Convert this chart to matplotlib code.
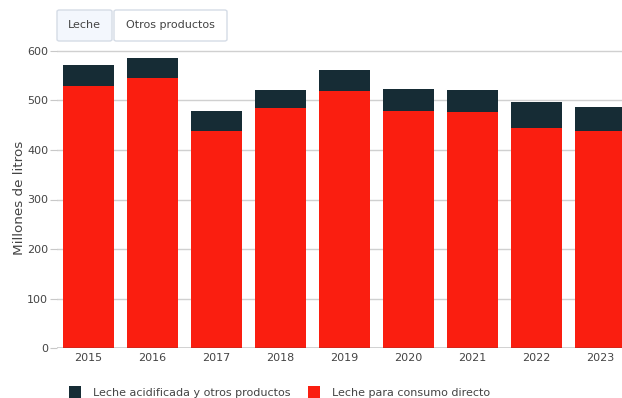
import matplotlib
matplotlib.use("Agg")
import matplotlib.pyplot as plt
from matplotlib.patches import FancyBboxPatch, Rectangle
import numpy as np

years = ["2015", "2016", "2017", "2018", "2019", "2020", "2021", "2022", "2023"]
consumo_directo = [529, 545, 438, 484, 519, 478, 476, 444, 438]
acidificada = [42, 40, 40, 36, 42, 45, 45, 53, 49]
yticks = [0, 100, 200, 300, 400, 500, 600]
buttons = ["Leche", "Otros productos"]
legend_labels = ["Leche acidificada y otros productos", "Leche para consumo directo"]

RED = "#fa1e10"
DARK = "#162c35"
TXT = "#444444"

plt.rcParams['font.family'] = ['DejaVu Sans']

W, H = 622, 398
fig = plt.figure(figsize=(W / 100, H / 100), dpi=100)

# axes geometry in pixels
left_px, right_px = 56.5, 632.5
y0_px, y600_px = 348.3, 50.7
ymax = 612
ppu = (y0_px - y600_px) / 600
top_px = y0_px - ymax * ppu
ax = fig.add_axes([left_px / W, 1 - y0_px / H, (right_px - left_px) / W, (y0_px - top_px) / H])

x = np.arange(len(years))
ax.bar(x, consumo_directo, width=0.8, color=RED, zorder=2)
ax.bar(x, acidificada, bottom=consumo_directo, width=0.8, color=DARK, zorder=2)

ax.set_xlim(-0.5, len(years) - 0.5)
ax.set_ylim(0, ymax)
ax.set_yticks(yticks)
ax.set_yticklabels([str(v) for v in yticks])
ax.set_xticks(x)
ax.set_xticklabels(years)
ax.grid(axis="y", color="#d0d0d0", linewidth=1.0, zorder=0)
ax.axhline(0, color="#444444", linewidth=1.0, zorder=3)
for s in ax.spines.values():
    s.set_visible(False)
ax.tick_params(axis="y", length=5, color="#c8c8c8", labelsize=8, labelcolor=TXT, pad=1)
ax.tick_params(axis="x", length=0, labelsize=8, labelcolor=TXT, pad=3.5)
ax.set_axisbelow(True)

fig.text(19.5 / W, 1 - 198 / H, "Millones de litros", rotation=90, ha="center", va="center",
         fontsize=9.7, color=TXT)

# buttons
btn_specs = [(57, 112, "#f3f7fd"), (114, 227, "#ffffff")]
for (bx0, bx1, fc), label in zip(btn_specs, buttons):
    p = FancyBboxPatch((bx0 / W, 1 - 41 / H), (bx1 - bx0) / W, 31 / H,
                       boxstyle="round,pad=0,rounding_size=0.004",
                       transform=fig.transFigure, facecolor=fc, edgecolor="#d5dce6",
                       linewidth=1.0)
    fig.patches.append(p)
    fig.text((bx0 + bx1) / 2 / W, 1 - 24.5 / H, label, ha="center", va="center",
             fontsize=8, color=TXT)

# legend
leg_items = [(69, 93, DARK), (308, 332, RED)]
for (sx, tx, c), label in zip(leg_items, legend_labels):
    r = Rectangle((sx / W, 1 - 398 / H), 12 / W, 12 / H, transform=fig.transFigure,
                  facecolor=c, edgecolor="none")
    fig.patches.append(r)
    fig.text(tx / W, 1 - 392.5 / H, label, ha="left", va="center", fontsize=8, color=TXT)

fig.savefig("out.png", dpi=100)
